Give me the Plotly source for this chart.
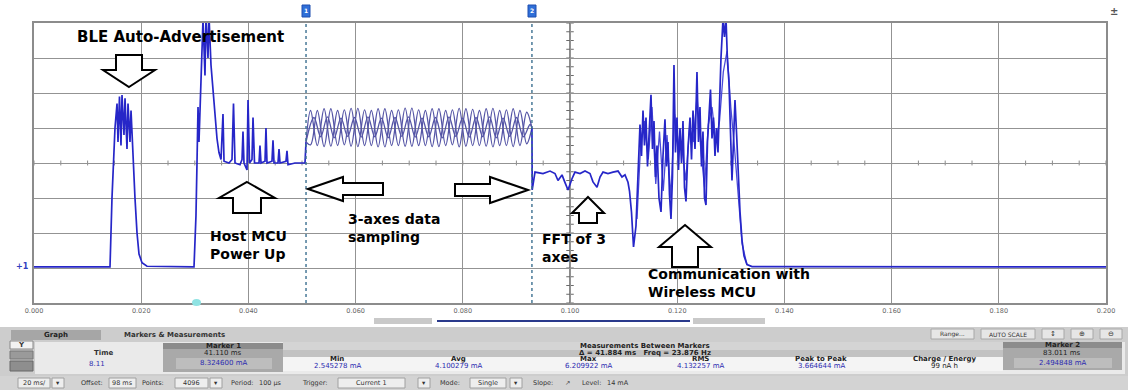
import plotly.graph_objects as go

# ---------------- data (time in ms, current in mA) ----------------
pre_t = [0, 14.18, 14.55, 15.11, 15.49, 15.67, 15.95, 16.23, 16.42, 16.79,
         16.98, 17.35, 17.54, 17.91, 18.10, 18.47, 18.84, 19.22, 19.59, 20.15,
         21.08, 29.85, 30.22, 30.41, 30.60, 30.78, 31.16, 31.53, 31.90, 32.09,
         32.46, 32.65, 33.02, 33.40, 33.77, 34.14, 34.51, 34.89, 35.26, 35.45,
         36.38, 36.94, 37.22, 37.50, 38.43, 38.81, 38.99, 39.18, 39.74, 39.93,
         40.21, 40.67, 40.86, 41.14, 41.98, 42.16, 42.35, 43.10, 43.28, 43.47,
         44.40, 44.59, 44.78, 45.52, 45.71, 45.90, 47.01, 47.20, 47.39, 48.69,
         50.56, 50.75]
pre_v = [1.03, 1.03, 3.0, 5.0, 5.7, 4.6, 5.9, 4.5, 5.94, 4.8,
         5.85, 4.4, 5.7, 4.6, 5.5, 4.0, 3.0, 2.0, 1.4, 1.15,
         1.05, 1.03, 2.5, 4.0, 5.6, 4.6, 6.5, 8.1, 6.5, 8.2,
         7.0, 8.2, 6.8, 6.0, 5.3, 4.7, 4.3, 4.1, 5.4, 4.05,
         4.0, 4.1, 5.7, 4.0, 3.95, 4.1, 4.9, 4.0, 3.8, 5.8,
         4.0, 4.1, 5.3, 4.0, 4.0, 4.5, 4.0, 4.05, 5.0, 4.0,
         4.05, 4.65, 4.0, 4.0, 4.4, 4.0, 4.05, 4.35, 3.95, 4.0,
         4.0, 4.6]

samp_ta = [50.75, 51.6, 52.86, 54.12, 55.38, 56.64, 57.9, 59.16, 60.42, 61.68,
           62.94, 64.2, 65.46, 66.72, 67.98, 69.24, 70.5, 71.76, 73.02, 74.28,
           75.54, 76.8, 78.06, 79.32, 80.58, 81.84, 83.1, 84.36, 85.62, 86.88,
           88.14, 89.4, 90.66, 91.92, 92.9]
samp_a = [4.6, 5.5, 4.5, 5.55, 4.48, 5.5, 4.52, 5.56, 4.47, 5.52,
          4.5, 5.55, 4.46, 5.5, 4.5, 5.57, 4.48, 5.52, 4.5, 5.55,
          4.47, 5.5, 4.52, 5.56, 4.48, 5.53, 4.5, 5.55, 4.46, 5.5,
          4.5, 5.55, 4.5, 5.45, 5.0]
samp_b = [4.6, 4.52, 5.5, 4.47, 5.55, 4.5, 5.52, 4.48, 5.56, 4.5,
          5.5, 4.46, 5.55, 4.5, 5.52, 4.48, 5.57, 4.5, 5.5, 4.47,
          5.55, 4.5, 5.52, 4.46, 5.55, 4.5, 5.5, 4.48, 5.56, 4.5,
          5.52, 4.47, 5.5, 4.55, 5.0]
samp_tc = [50.75, 52.23, 53.49, 54.75, 56.01, 57.27, 58.53, 59.79, 61.05, 62.31,
           63.57, 64.83, 66.09, 67.35, 68.61, 69.87, 71.13, 72.39, 73.65, 74.91,
           76.17, 77.43, 78.69, 79.95, 81.21, 82.47, 83.73, 84.99, 86.25, 87.51,
           88.77, 90.03, 91.29, 92.55, 92.9]
samp_c = [4.6, 5.3, 4.75, 5.32, 4.72, 5.28, 4.76, 5.3, 4.74, 5.32,
          4.75, 5.28, 4.72, 5.3, 4.76, 5.32, 4.74, 5.28, 4.75, 5.3,
          4.72, 5.32, 4.76, 5.28, 4.74, 5.3, 4.75, 5.32, 4.72, 5.28,
          4.76, 5.3, 4.75, 5.1, 5.0]

post_t = [92.90, 92.95, 93.47, 94.96, 96.27, 97.20, 97.76, 98.51, 99.07, 99.63,
          100.37, 100.93, 101.87, 102.80, 103.73, 104.29, 105.04, 105.60, 106.16, 107.09,
          108.02, 108.96, 109.70, 110.26, 110.82, 111.10, 111.47, 111.85, 112.31, 112.69,
          113.06, 113.34, 113.62, 113.90, 114.18, 114.46, 114.74, 115.11, 115.39, 115.67,
          115.95, 116.23, 116.60, 116.98, 117.35, 117.72, 118.00, 118.28, 118.56, 118.84,
          119.12, 119.40, 119.68, 119.96, 120.24, 120.52, 120.80, 121.08, 121.36, 121.64,
          122.01, 122.39, 122.67, 122.95, 123.32, 123.69, 123.97, 124.25, 124.53, 124.81,
          125.09, 125.37, 125.65, 125.93, 126.21, 126.49, 126.77, 127.05, 127.33, 127.61,
          127.89, 128.17, 128.54, 128.82, 129.10, 129.38, 129.66, 129.94, 130.22, 130.50,
          130.78, 131.06, 131.34, 131.72, 132.09, 132.46, 133.02, 133.96, 200.0]
post_v = [5.0, 3.23, 3.74, 3.70, 3.77, 3.70, 3.50, 3.66, 3.44, 3.23,
          3.55, 3.74, 3.70, 3.77, 3.70, 3.46, 3.31, 3.60, 3.74, 3.70,
          3.74, 3.77, 3.60, 3.66, 3.45, 3.2, 2.6, 1.6, 2.2, 3.8,
          5.1, 4.2, 5.5, 4.5, 5.3, 3.9, 4.8, 5.95, 4.4, 5.2,
          3.6, 4.5, 3.0, 2.6, 4.2, 5.25, 3.9, 4.6, 3.1, 2.4,
          3.6, 6.8, 4.3, 5.3, 3.8, 5.0, 4.0, 5.2, 3.3, 2.9,
          4.4, 5.3, 4.1, 5.5, 4.4, 6.6, 4.6, 5.6, 3.9, 4.9,
          3.0, 2.8, 4.6, 5.4, 6.1, 4.7, 5.3, 4.2, 5.0, 4.3,
          5.9, 7.0, 8.1, 7.6, 8.15, 6.9, 6.3, 4.8, 3.5, 4.6,
          5.8, 4.9, 3.9, 2.6, 1.8, 1.35, 1.1, 1.04, 1.03]

# second (lighter) capture overlaid on the noisy radio burst
comm2_t = [112.5, 113.2, 113.9, 114.6, 115.3, 116.0, 116.7, 117.4, 118.1, 118.8,
           119.5, 120.2, 120.9, 121.6, 122.3, 123.0, 123.7, 124.4, 125.1, 125.8,
           126.5, 127.2, 127.9, 128.6, 129.3, 130.0, 130.7, 131.4, 132.1, 133.0]
comm2_v = [2.4, 4.6, 5.2, 4.1, 5.6, 3.4, 4.9, 3.2, 4.8, 3.0,
           5.4, 4.6, 4.4, 3.5, 5.0, 4.6, 5.9, 4.4, 3.3, 5.1,
           5.6, 4.6, 5.2, 6.6, 7.2, 5.6, 4.4, 3.0, 1.7, 1.1]

marker_times = [50.75, 92.9]
x_ticks = [0, 20, 40, 60, 80, 100, 120, 140, 160, 180, 200]
x_tick_labels = ["0.000", "0.020", "0.040", "0.060", "0.080", "0.100",
                 "0.120", "0.140", "0.160", "0.180", "0.200"]

# chart labels
labels = ["BLE Auto-Advertisement", "Host MCU<br>Power Up", "3-axes data<br>sampling",
          "FFT of 3<br>axes", "Communication with<br>Wireless MCU"]

# bottom panel texts
marker1_texts = ["Marker 1", "41.110 ms", "8.324600 mA"]
marker2_texts = ["Marker 2", "83.011 ms", "2.494848 mA"]
meas_title = ["Measurements Between Markers", "\u0394 = 41.884 ms   Freq = 23.876 Hz"]
meas_headers = ["Min", "Avg", "Max", "RMS", "Peak to Peak", "Charge / Energy"]
meas_values = ["2.545278 mA", "4.100279 mA", "6.209922 mA", "4.132257 mA", "3.664644 mA", "99 nA h"]

# ---------------- figure ----------------
W, H = 1128, 390
L, R, T, B = 34, 22, 23, 87
PW, PH = W - L - R, H - T - B


def px(x):
    return (x - L) / PW


def py(y):
    return (H - B - y) / PH


fig = go.Figure()
main_line = dict(color="#2626c8", width=1.7)
fig.add_trace(go.Scatter(x=pre_t, y=pre_v, mode="lines", line=main_line, hoverinfo="skip"))
for tt, vv in [(samp_ta, samp_a), (samp_ta, samp_b), (samp_tc, samp_c)]:
    fig.add_trace(go.Scatter(x=tt, y=vv, mode="lines", hoverinfo="skip",
                             line=dict(color="#5555a6", width=1.3, shape="spline", smoothing=1.0)))
fig.add_trace(go.Scatter(x=comm2_t, y=comm2_v, mode="lines", hoverinfo="skip",
                         line=dict(color="#4a4ad8", width=1.3)))
fig.add_trace(go.Scatter(x=post_t, y=post_v, mode="lines", line=main_line, hoverinfo="skip"))

shapes = []

# minor ticks on the centre lines
for k in range(41):
    shapes.append(dict(type="line", xref="x", yref="y", x0=k * 5, x1=k * 5, y0=3.93, y1=4.07,
                       line=dict(color="#8a8a8a", width=1), layer="below"))
for k in range(33):
    shapes.append(dict(type="line", xref="x", yref="y", x0=99.3, x1=100.7, y0=k * 0.25, y1=k * 0.25,
                       line=dict(color="#6a6a6a", width=1), layer="below"))
shapes.append(dict(type="line", xref="x", yref="paper", x0=100, x1=100, y0=0, y1=1,
                   line=dict(color="#5a5a5a", width=1.4), layer="below"))

# marker lines + flags
for mt in marker_times:
    shapes.append(dict(type="line", xref="x", yref="paper", x0=mt, x1=mt, y0=0, y1=1.0,
                       line=dict(color="#3c7090", width=1.4, dash="dot")))
for fx in (306, 532):
    shapes.append(dict(type="rect", xref="paper", yref="paper", x0=px(fx - 4), x1=px(fx + 4),
                       y0=py(17), y1=py(5), fillcolor="#2f6fd8", line=dict(color="#1f4fb0", width=1)))

# trigger marker
shapes.append(dict(type="circle", xref="paper", yref="paper", x0=px(192), x1=px(201), y0=py(306), y1=py(299),
                   fillcolor="#8fe3e3", line=dict(width=0)))


def poly(points):
    d = "M " + " L ".join(f"{px(x):.5f},{py(y):.5f}" for x, y in points) + " Z"
    return dict(type="path", xref="paper", yref="paper", path=d, fillcolor="white",
                line=dict(color="black", width=2))


def up_arrow(tx, ty, hw, base, sw, end):
    return poly([(tx, ty), (tx + hw, base), (tx + sw, base), (tx + sw, end),
                 (tx - sw, end), (tx - sw, base), (tx - hw, base)])


def side_arrow(tx, ty, hh, base, sh, end):
    return poly([(tx, ty), (base, ty - hh), (base, ty - sh), (end, ty - sh),
                 (end, ty + sh), (base, ty + sh), (base, ty + hh)])


shapes += [
    up_arrow(129, 87, 26, 70, 13, 55),      # down arrow above BLE burst
    up_arrow(247, 182, 28, 198, 14, 213),   # host MCU
    side_arrow(308, 189, 12, 343, 6, 383),  # 3-axes (left)
    side_arrow(528, 190, 13, 490, 6, 455),  # to FFT (right)
    up_arrow(588, 197, 16, 213, 9, 223),    # FFT
    up_arrow(685, 225, 26, 247, 13, 267),   # communication
]

# ---------------- bottom panel ----------------
def rect(x0, y0, x1, y1, fill, line=None, lw=1):
    return dict(type="rect", xref="paper", yref="paper", x0=px(x0), x1=px(x1), y0=py(y1), y1=py(y0),
                fillcolor=fill, line=dict(color=line or fill, width=lw if line else 0))


shapes += [
    rect(374, 318, 432, 324, "#c9c9c9"),
    dict(type="line", xref="paper", yref="paper", x0=px(437), x1=px(690), y0=py(321), y1=py(321),
         line=dict(color="#2a3a8c", width=2)),
    rect(693, 318, 765, 324, "#c9c9c9"),
    rect(0, 327, 1128, 390, "#cdcdcd"),
    rect(11, 330, 101, 340, "#a6a6a6"),
    rect(931, 329, 974, 339, "#e6e6e6", "#a8a8a8"),
    rect(981, 329, 1035, 339, "#e6e6e6", "#a8a8a8"),
    rect(1042, 329, 1064, 339, "#e6e6e6", "#a8a8a8"),
    rect(1071, 329, 1093, 339, "#e6e6e6", "#a8a8a8"),
    rect(1100, 329, 1122, 339, "#e6e6e6", "#a8a8a8"),
    rect(35, 342, 1125, 374, "#eaeaea"),
    rect(283, 342, 1003, 350, "#d4d4d4"),
    rect(283, 350, 1003, 357, "#c2c2c2"),
    rect(283, 357, 1003, 371, "#f4f4f4"),
    rect(10, 341, 33, 349, "#f2f2f2", "#888888"),
    rect(10, 351, 33, 359, "#9a9a9a", "#777777"),
    rect(10, 361, 33, 371, "#8e8e8e", "#666666"),
    rect(163, 343, 283, 372, "#a9a9a9"),
    rect(163, 343, 283, 349, "#8c8c8c"),
    rect(176, 358, 272, 369, "#bdbdbd"),
    rect(1003, 342, 1122, 370, "#a9a9a9"),
    rect(1003, 342, 1122, 348, "#8c8c8c"),
    rect(1014, 358, 1112, 368, "#bdbdbd"),
    rect(0, 376, 1128, 390, "#d3d3d3"),
    rect(18, 378, 50, 388, "#eeeeee", "#a0a0a0"),
    rect(52, 378, 64, 388, "#eeeeee", "#a0a0a0"),
    rect(109, 378, 136, 388, "#eeeeee", "#a0a0a0"),
    rect(175, 378, 208, 388, "#eeeeee", "#a0a0a0"),
    rect(210, 378, 222, 388, "#eeeeee", "#a0a0a0"),
    rect(338, 378, 405, 388, "#eeeeee", "#a0a0a0"),
    rect(418, 378, 430, 388, "#eeeeee", "#a0a0a0"),
    rect(470, 378, 506, 388, "#eeeeee", "#a0a0a0"),
    rect(510, 378, 522, 388, "#eeeeee", "#a0a0a0"),
]

annotations = []


def txt(x, y, s, size=7, color="#333333", anchor="center", bold=False, family="DejaVu Sans"):
    annotations.append(dict(xref="paper", yref="paper", x=px(x), y=py(y), text=f"<b>{s}</b>" if bold else s,
                            showarrow=False, xanchor=anchor, yanchor="middle", align="left",
                            font=dict(size=size, color=color, family=family)))


# chart labels (two-line labels as single wrapped texts)
big = 14
txt(180, 37, labels[0], 15, "black", "center", True)
txt(208, 245, labels[1], big, "black", "left", True)
txt(346, 228, labels[2], big, "black", "left", True)
txt(540, 248, labels[3], big, "black", "left", True)
txt(646, 283, labels[4], big, "black", "left", True)

txt(22, 266, "+1", 8, "#3040c0", "center", True)
txt(1114, 12, "\u00b1", 10, "#555555", "center", True)
txt(306, 11, "1", 6, "white", "center", True)
txt(532, 11, "2", 6, "white", "center", True)

# panel texts
txt(56, 335, "Graph", 7, "#222222", "center", True)
txt(122, 335, "Markers &amp; Measurements", 7, "#333333", "left", True)
txt(952, 334, "Range...", 6, "#333333")
txt(1008, 334, "AUTO SCALE", 6, "#333333")
txt(1053, 334, "\u2195", 7, "#333333")
txt(1082, 334, "\u2295", 7, "#333333")
txt(1111, 334, "\u2296", 7, "#333333")
txt(21, 345, "Y", 7, "#333333", bold=True)
txt(103, 353, "Time", 7, "#333333", bold=True)
txt(97, 364, "8.11", 7, "#3030b0")
txt(223, 346, marker1_texts[0], 7, "#222222", bold=True)
txt(223, 353, marker1_texts[1], 7, "#222222")
txt(223, 363, marker1_texts[2], 7, "#2a2ab0")
txt(1062, 345, marker2_texts[0], 7, "#222222", bold=True)
txt(1062, 353, marker2_texts[1], 7, "#222222")
txt(1062, 363, marker2_texts[2], 7, "#2a2ab0")
txt(645, 346, meas_title[0], 7, "#222222", bold=True)
txt(645, 353, meas_title[1], 7, "#222222", bold=True)
for cx, h, v in zip([337, 458, 588, 700, 821, 944], meas_headers, meas_values):
    txt(cx, 359, h, 7, "#222222", bold=True)
    txt(cx, 366, v, 7, "#2a2ab0" if "mA" in v else "#222222")

toolbar = [(34, "20 ms/"), (58, "\u25be"), (92, "Offset:"), (122, "98 ms"), (153, "Points:"),
           (191, "4096"), (216, "\u25be"), (242, "Period:"), (270, "100 \u00b5s"), (315, "Trigger:"),
           (371, "Current 1"), (424, "\u25be"), (450, "Mode:"), (488, "Single"), (516, "\u25be"),
           (543, "Slope:"), (567, "\u2197"), (591, "Level:"), (618, "14 mA")]
for x, s in toolbar:
    txt(x, 383, s, 6.5, "#333333")

fig.update_layout(
    width=W, height=H, margin=dict(l=L, r=R, t=T, b=B, autoexpand=False),
    paper_bgcolor="white", plot_bgcolor="white", showlegend=False,
    font=dict(family="DejaVu Sans"), shapes=shapes, annotations=annotations,
)
fig.update_xaxes(range=[0, 200], tickvals=x_ticks, ticktext=x_tick_labels, showgrid=True,
                 gridcolor="#939393", gridwidth=1.2, showline=True, mirror=True, linecolor="#8c8c8c",
                 linewidth=1.6, zeroline=False, ticks="", tickfont=dict(size=6.5, color="#666666"),
                 fixedrange=True, automargin=False)
fig.update_yaxes(range=[0, 8], dtick=1, showgrid=True, gridcolor="#939393", gridwidth=1.2,
                 showline=True, mirror=True, linecolor="#8c8c8c", linewidth=1.6, zeroline=False,
                 showticklabels=False, ticks="", fixedrange=True, automargin=False)

fig.write_html("out.html", config={"displayModeBar": False},
               post_script="document.body.style.margin='0';"
                           "document.documentElement.style.overflow='hidden';")
